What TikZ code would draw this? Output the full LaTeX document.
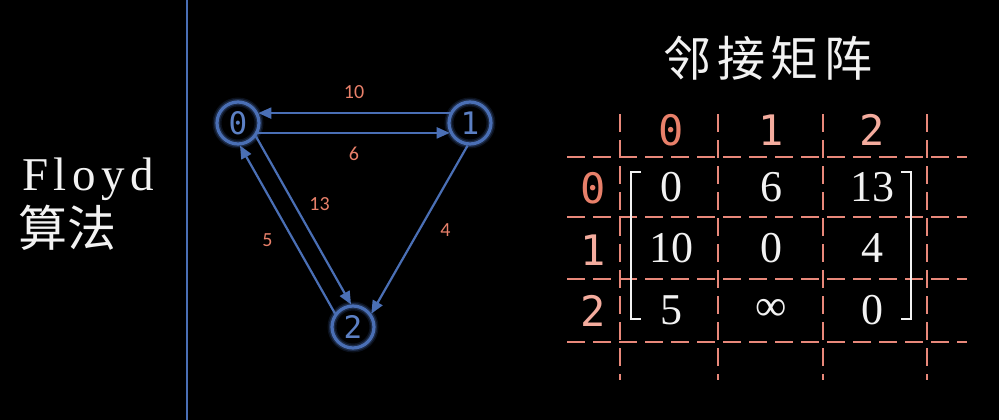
\documentclass[tikz,border=0pt]{standalone}
\usepackage{fontspec}
\setmainfont{Liberation Serif}
\newfontfamily\cjk{Noto Sans CJK SC}
\newfontfamily\cjkwide[LetterSpace=12]{Noto Sans CJK SC}
\newfontfamily\monofont{DejaVu Sans Mono}
\newfontfamily\labelfont{Carlito}
\newfontfamily\floydfont[LetterSpace=12]{Liberation Serif}
\usetikzlibrary{arrows.meta}
\definecolor{lineblue}{RGB}{74,111,181}
\definecolor{digitblue}{RGB}{92,128,196}
\definecolor{weightred}{RGB}{232,128,106}
\definecolor{gridred}{RGB}{232,136,122}
\definecolor{headlight}{RGB}{244,172,158}
\definecolor{chalk}{RGB}{242,242,242}

\begin{document}
\begin{tikzpicture}[x=1pt, y=-1pt, >={Triangle[length=13pt,width=11pt]},
  vertex/.style={circle, draw=lineblue, line width=3.2pt, minimum size=42pt,
    inner sep=0pt, text=digitblue, font=\monofont\fontsize{31}{31}\selectfont,
    preaction={draw=lineblue, line width=9pt, draw opacity=0.16},
    preaction={draw=lineblue, line width=6pt, draw opacity=0.3}},
  edge/.style={->, lineblue, line width=2.2pt},
  weight/.style={inner sep=0pt, text=weightred, font=\labelfont\fontsize{20}{20}\selectfont},
  grid/.style={gridred, line width=2.3pt, dash pattern=on 18pt off 8pt},
  head/.style={font=\monofont\fontsize{42}{42}\selectfont},
  entry/.style={text=chalk, font=\fontsize{44}{44}\selectfont}]
  \fill[black] (0,0) rectangle (999,420);
  \useasboundingbox (0,0) rectangle (999,420);

  % title on the left
  \node[anchor=base west, inner sep=0pt, text=chalk, font=\floydfont\fontsize{47}{47}\selectfont]
    (algo) at (22,190) {Floyd};
  \node[text=chalk, font=\cjk\fontsize{49}{49}\selectfont] (algocn) at (68,228) {算法};
  \draw[lineblue, line width=2.2pt] (187,0) -- (187,420);

  % the graph
  \node[vertex] (n0) at (238,123) {0};
  \node[vertex] (n1) at (470,123) {1};
  \node[vertex] (n2) at (353,327) {2};
  \draw[edge] (n1.154) -- (n0.26)
    node[weight, midway, above=13pt]{10};
  \draw[edge] (n0.-26) -- (n1.206)
    node[weight, midway, below=13pt]{6};
  \draw[edge] (n0.-37) -- (n2.95)
    node[weight, midway, xshift=16pt, yshift=16pt]{13};
  \draw[edge] (n2.143) -- (n0.-85)
    node[weight, midway, xshift=-20pt, yshift=-11pt]{5};
  \draw[edge] (n1.-96) -- (n2.36)
    node[weight, midway, xshift=26pt]{4};

  % adjacency matrix
  \node[text=chalk, font=\cjkwide\fontsize{48}{48}\selectfont] (title) at (768,58) {邻接矩阵};
  \foreach \gy in {157,217,279,342}
    \draw[grid] (567,\gy) -- (967,\gy);
  \foreach \gx in {620,718,823,927}
    \draw[grid] (\gx,114) -- (\gx,380);
  \node[head, text=weightred] (c0) at (671,130) {0};
  \node[head, text=headlight] (c1) at (771,130) {1};
  \node[head, text=headlight] (c2) at (872,130) {2};
  \node[head, text=weightred] (r0) at (593,188) {0};
  \node[head, text=headlight] (r1) at (593,250) {1};
  \node[head, text=headlight] (r2) at (593,311) {2};
  \foreach \r/\c/\v in {0/0/0, 0/1/6, 0/2/13, 1/0/10, 1/1/0, 1/2/4, 2/0/5, 2/1/∞, 2/2/0}
    \node[entry] (m\r\c) at ({671+100.5*\c},{187+61.5*\r}) {\v};
  \draw[chalk, line width=2.8pt] (641,172) -- (631,172) -- (631,319) -- (641,319);
  \draw[chalk, line width=2.8pt] (901,172) -- (911,172) -- (911,319) -- (901,319);
\end{tikzpicture}
\end{document}
